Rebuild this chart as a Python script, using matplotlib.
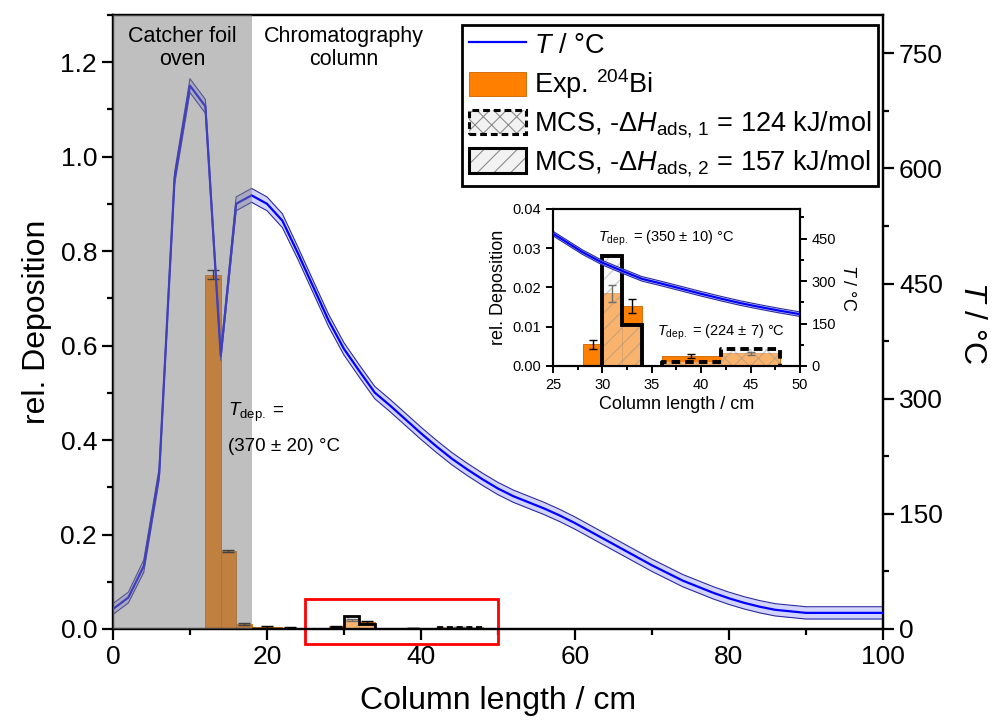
import numpy as np
import matplotlib.pyplot as plt
from matplotlib.patches import Patch, Rectangle
from matplotlib.lines import Line2D
from matplotlib.legend_handler import HandlerTuple
from matplotlib.ticker import MultipleLocator

plt.rcParams['font.family'] = ['Liberation Sans', 'DejaVu Sans']
plt.rcParams['mathtext.fontset'] = 'custom'
plt.rcParams['mathtext.rm'] = 'Liberation Sans'
plt.rcParams['mathtext.it'] = 'Liberation Sans:italic'
plt.rcParams['hatch.linewidth'] = 0.8

# ----- Temperature profile (°C) along the column -----
T_x = [0, 2, 4, 6, 8, 10, 12, 14, 16, 18, 20, 22, 24, 26, 28, 30, 32, 34, 36, 38,
       40, 42, 44, 46, 48, 50, 52, 54, 56, 58, 60, 62, 64, 66, 68, 70, 72, 74, 76,
       78, 80, 82, 84, 86, 88, 90, 92, 94, 96, 98, 100]
T_val = [26, 41, 82, 202, 587, 708, 681, 356, 554, 565, 554, 532, 490, 446, 402, 365,
         336, 308, 291, 273, 255, 238, 222, 208, 195, 183, 173, 165, 157, 148, 138,
         127, 116, 105, 94, 83, 73, 63, 55, 47, 40, 34, 29, 25, 23, 21, 21, 21, 21, 21, 21]
T_err = [7, 7, 8, 8, 8, 9, 9, 6, 9, 9, 9, 9, 8, 8, 8, 8, 8, 8, 8, 8,
         8, 8, 8, 8, 8, 8, 8, 8, 8, 8, 8, 8, 8, 8, 8, 8, 8, 8, 8,
         8, 8, 8, 8, 8, 8, 8, 8, 8, 8, 8, 8]

# ----- Experimental 204Bi deposition -----
exp_left = [12, 14, 16, 18, 22, 28, 30, 32, 36, 42]
exp_width = [2, 2, 2, 4, 2, 2, 2, 2, 6, 6]
exp_val = [0.750, 0.165, 0.010, 0.004, 0.003, 0.0055, 0.0185, 0.0152, 0.0026, 0.0032]
exp_err = [0.010, 0.003, 0.002, 0.0015, 0.002, 0.0012, 0.0021, 0.0018, 0.0005, 0.0004]

# ----- Monte Carlo simulations -----
mcs1_left = [36, 42]          # -dH = 124 kJ/mol
mcs1_width = [6, 6]
mcs1_val = [0.0010, 0.0043]
mcs2_left = [30, 32]          # -dH = 157 kJ/mol
mcs2_width = [2, 2]
mcs2_val = [0.028, 0.0105]

orange = '#ff8000'
orange_edge = '#c86400'
mcs_fill = '#f2f2f2'
hatch_col = '#8c8c8c'


def step_outline(left, width, val):
    xs, ys = [left[0]], [0]
    for l, w, v in zip(left, width, val):
        xs += [l, l + w]
        ys += [v, v]
    xs.append(left[-1] + width[-1])
    ys.append(0)
    return xs, ys


def draw_deposition(a, lw_mcs, capsize):
    a.bar(exp_left, exp_val, width=exp_width, align='edge', color=orange,
          edgecolor=orange_edge, linewidth=0.6, yerr=exp_err,
          error_kw=dict(ecolor='black', elinewidth=1, capsize=capsize, capthick=1),
          zorder=2)
    a.bar(mcs1_left, mcs1_val, width=mcs1_width, align='edge', facecolor=mcs_fill,
          alpha=0.45, edgecolor=hatch_col, linewidth=0, hatch='xx', zorder=3)
    a.bar(mcs2_left, mcs2_val, width=mcs2_width, align='edge', facecolor=mcs_fill,
          alpha=0.45, edgecolor=hatch_col, linewidth=0, hatch='//', zorder=3)
    xs, ys = step_outline(mcs1_left, mcs1_width, mcs1_val)
    a.plot(xs, ys, color='black', lw=lw_mcs, ls=(0, (2.2, 1.3)), zorder=4,
           solid_joinstyle='miter')
    xs, ys = step_outline(mcs2_left, mcs2_width, mcs2_val)
    a.plot(xs, ys, color='black', lw=lw_mcs, zorder=4, solid_joinstyle='miter')


def draw_T(a, lw):
    lo = np.array(T_val) - np.array(T_err)
    hi = np.array(T_val) + np.array(T_err)
    a.fill_between(T_x, lo, hi, color='#c8c8ff', alpha=0.8, lw=0, zorder=1)
    a.plot(T_x, lo, color='#2a2aa0', lw=0.8, zorder=2)
    a.plot(T_x, hi, color='#2a2aa0', lw=0.8, zorder=2)
    a.plot(T_x, T_val, color='#0000ff', lw=lw, zorder=3)


fig = plt.figure(figsize=(9.98, 7.2), dpi=100)

# ----- Main plot -----
ax = fig.add_axes([0.1132, 0.1264, 0.7715, 0.8528])
draw_deposition(ax, 2.0, 4)
ax.set_xlim(0, 100)
ax.set_ylim(0, 1.3)
ax.xaxis.set_major_locator(MultipleLocator(20))
ax.xaxis.set_minor_locator(MultipleLocator(10))
ax.yaxis.set_major_locator(MultipleLocator(0.2))
ax.yaxis.set_minor_locator(MultipleLocator(0.1))
ax.yaxis.set_major_formatter(plt.FormatStrFormatter('%.1f'))
ax.tick_params(which='major', direction='out', length=8, width=1.6, labelsize=19)
ax.tick_params(which='minor', direction='out', length=4.5, width=1.6)
ax.set_xlabel('Column length / cm', fontsize=23, labelpad=12)
ax.set_ylabel('rel. Deposition', fontsize=23, labelpad=6)
for s in ax.spines.values():
    s.set_linewidth(1.6)

# red box marking the zoomed region
ax.add_patch(Rectangle((25, -0.032), 25, 0.0955, fill=False, edgecolor='red',
                       lw=2, clip_on=False, zorder=6))

ax2 = ax.twinx()
draw_T(ax2, 1.6)
ax2.set_ylim(0, 800)
ax2.yaxis.set_major_locator(MultipleLocator(150))
ax2.yaxis.set_minor_locator(MultipleLocator(75))
ax2.tick_params(which='major', direction='out', length=8, width=1.6, labelsize=19)
ax2.tick_params(which='minor', direction='out', length=4.5, width=1.6)
ax2.set_ylabel(r'$T$ / °C', fontsize=23, rotation=-90, labelpad=32)
for s in ax2.spines.values():
    s.set_linewidth(1.6)

# catcher foil oven shading
ax2.axvspan(0, 18, color=(0.5, 0.5, 0.5), alpha=0.5, lw=0, zorder=5)

ax2.text(9, 785, 'Catcher foil\noven', ha='center', va='top', fontsize=15.5,
         linespacing=1.1, zorder=7)
ax2.text(30, 785, 'Chromatography\ncolumn', ha='center', va='top', fontsize=15.5,
         linespacing=1.1, zorder=7)
ax2.text(15.0, 0.459, r'$T_{\mathrm{dep.}}$ =', ha='left', va='center', fontsize=13.5,
         transform=ax.transData, zorder=7)
ax2.text(15.0, 0.387, '(370 ± 20) °C', ha='left', va='center', fontsize=13.5,
         transform=ax.transData, zorder=7)

# legend
h_T = Line2D([], [], color='#0000ff', lw=1.6)
h_exp = Patch(facecolor=orange, edgecolor=orange_edge, lw=0.6)
h_m1 = (Patch(facecolor=mcs_fill, edgecolor=hatch_col, lw=0, hatch='xx'),
        Patch(facecolor='none', edgecolor='black', lw=2.2, ls=(0, (2.2, 1.3))))
h_m2 = (Patch(facecolor=mcs_fill, edgecolor=hatch_col, lw=0, hatch='//'),
        Patch(facecolor='none', edgecolor='black', lw=2.2))
leg = ax2.legend([h_T, h_exp, h_m1, h_m2],
                 [r'$T$ / °C', r'Exp. $^{204}$Bi',
                  r'MCS, -$\Delta H_{\mathrm{ads,\,1}}$ = 124 kJ/mol',
                  r'MCS, -$\Delta H_{\mathrm{ads,\,2}}$ = 157 kJ/mol'],
                 handler_map={tuple: HandlerTuple(ndivide=1)},
                 loc='upper right', bbox_to_anchor=(878 / 998, 1 - 25 / 720),
                 bbox_transform=fig.transFigure, borderaxespad=0, fontsize=19.5,
                 fancybox=False, framealpha=1, edgecolor='black',
                 handlelength=2.1, handleheight=1.0, handletextpad=0.3,
                 labelspacing=0.3, borderpad=0.25)
leg.get_frame().set_linewidth(2)
leg.set_zorder(10)

# ----- Inset -----
axi = fig.add_axes([0.5541, 0.4917, 0.2475, 0.2181])
draw_deposition(axi, 2.8, 3)
axi.set_xlim(25, 50)
axi.set_ylim(0, 0.04)
axi.xaxis.set_major_locator(MultipleLocator(5))
axi.xaxis.set_minor_locator(MultipleLocator(2.5))
axi.yaxis.set_major_locator(MultipleLocator(0.01))
axi.yaxis.set_major_formatter(plt.FormatStrFormatter('%.2f'))
axi.tick_params(which='major', direction='out', length=5, width=1.4, labelsize=10.5)
axi.tick_params(which='minor', direction='out', length=3, width=1.4)
axi.set_xlabel('Column length / cm', fontsize=13, labelpad=3)
axi.set_ylabel('rel. Deposition', fontsize=13, labelpad=4)
for s in axi.spines.values():
    s.set_linewidth(1.5)
axi.text(29.6, 0.0325, r'$T_{\mathrm{dep.}}$ = (350 ± 10) °C', ha='left', va='center',
         fontsize=10.5, zorder=7)
axi.text(35.5, 0.0085, r'$T_{\mathrm{dep.}}$ = (224 ± 7) °C', ha='left', va='center',
         fontsize=10.5, zorder=7)

axi2 = axi.twinx()
draw_T(axi2, 1.6)
axi2.set_ylim(0, 555)
axi2.yaxis.set_major_locator(MultipleLocator(150))
axi2.yaxis.set_minor_locator(MultipleLocator(75))
axi2.tick_params(which='major', direction='out', length=5, width=1.4, labelsize=10.5)
axi2.tick_params(which='minor', direction='out', length=3, width=1.4)
axi2.set_ylabel(r'$T$ / °C', fontsize=13, rotation=-90, labelpad=14)
for s in axi2.spines.values():
    s.set_linewidth(1.5)

fig.savefig('out.png', dpi=100)
